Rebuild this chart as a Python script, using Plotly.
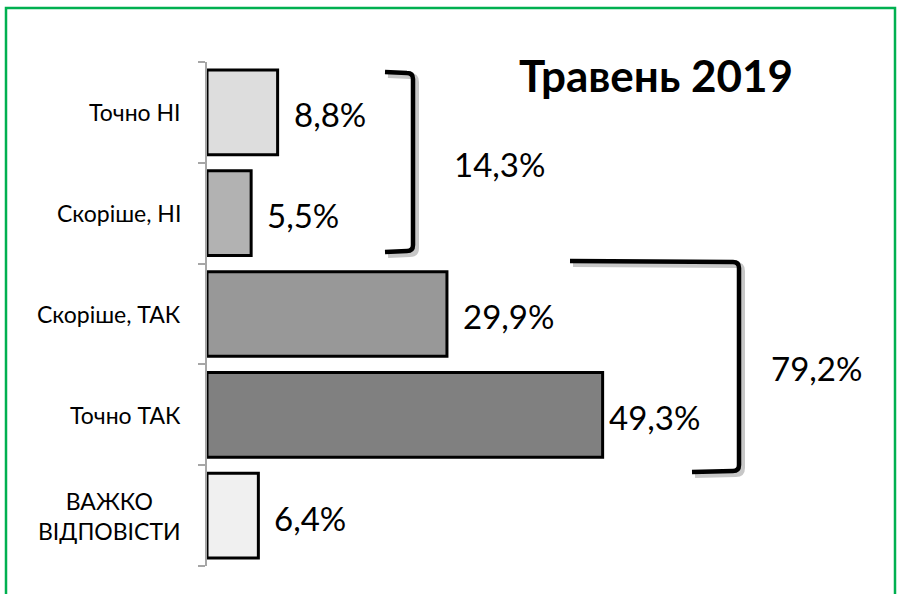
import plotly.graph_objects as go

categories = ["Точно НІ", "Скоріше, НІ", "Скоріше, ТАК", "Точно ТАК", "ВАЖКО<br>ВІДПОВІСТИ"]
values = [8.8, 5.5, 29.9, 49.3, 6.4]
value_labels = ["8,8%", "5,5%", "29,9%", "49,3%", "6,4%"]
bar_colors = ["#DDDDDD", "#B2B2B2", "#989898", "#808080", "#F0F0F0"]
group_labels = ["14,3%", "79,2%"]
title_text = "Травень 2019"

W, H = 897, 594
L, R, T, B = 207, 48, 62, 28
XMAX = 80
pw, ph = W - L - R, H - T - B

def px(xp):
    return (xp - L) / pw

def py(yp):
    return (H - B - yp) / ph

FONT = "Lato, 'Open Sans', sans-serif"

fig = go.Figure()
fig.add_trace(go.Bar(
    y=list(range(len(categories))), x=values, orientation="h",
    marker=dict(color=bar_colors, line=dict(color="#000000", width=3)),
    width=0.84, hoverinfo="skip",
))

annotations = []
shifts = [14, 14, 14, 4, 14]
for i, (v, t) in enumerate(zip(values, value_labels)):
    annotations.append(dict(x=v, y=i, xref="x", yref="y", text=t, showarrow=False,
                            xanchor="left", yanchor="middle", xshift=shifts[i], yshift=-2,
                            font=dict(family=FONT, size=33, color="#000000")))
for i, c in enumerate(categories):
    annotations.append(dict(x=0, y=i, xref="paper", yref="y", text=c, showarrow=False,
                            xanchor="right", yanchor="middle", xshift=-24, align="center",
                            font=dict(family=FONT, size=23, color="#000000")))

annotations.append(dict(x=px(656), y=py(75), xref="paper", yref="paper", text="<b>" + title_text + "</b>",
                        showarrow=False, xanchor="center", yanchor="middle",
                        font=dict(family=FONT, size=44, color="#000000")))
annotations.append(dict(x=px(452), y=py(164), xref="paper", yref="paper", text=group_labels[0],
                        showarrow=False, xanchor="left", yanchor="middle",
                        font=dict(family=FONT, size=33, color="#000000")))
annotations.append(dict(x=px(769), y=py(368), xref="paper", yref="paper", text=group_labels[1],
                        showarrow=False, xanchor="left", yanchor="middle",
                        font=dict(family=FONT, size=33, color="#000000")))

def bracket(x_top_left, y_top, x_right, y_bot, x_bot_left, dx=0, dy=0):
    r = 6
    pts = lambda x, y: f"{px(x + dx)},{py(y + dy)}"
    return ("M " + pts(x_top_left, y_top) +
            " L " + pts(x_right - r, y_top + 1) +
            " Q " + pts(x_right, y_top + 1) + " " + pts(x_right, y_top + 1 + r) +
            " L " + pts(x_right, y_bot - r) +
            " Q " + pts(x_right, y_bot) + " " + pts(x_right - r, y_bot) +
            " L " + pts(x_bot_left, y_bot + 1))

shapes = []
for (a, b, c, d, e) in [(385, 72, 413, 251, 385), (570, 261, 739, 471, 692)]:
    shapes.append(dict(type="path", xref="paper", yref="paper",
                       path=bracket(a, b, c, d, e, 3, 3),
                       line=dict(color="rgba(0,0,0,0.22)", width=6)))
    shapes.append(dict(type="path", xref="paper", yref="paper",
                       path=bracket(a, b, c, d, e),
                       line=dict(color="#000000", width=4.5)))

# green outer frame
shapes.append(dict(type="rect", xref="paper", yref="paper",
                   x0=px(6), x1=px(895), y0=py(8), y1=py(600),
                   line=dict(color="#00B050", width=2.5), fillcolor="rgba(0,0,0,0)", layer="below"))

n = len(categories)
fig.update_layout(
    width=W, height=H, margin=dict(l=L, r=R, t=T, b=B, pad=0),
    paper_bgcolor="#FFFFFF", plot_bgcolor="#FFFFFF",
    showlegend=False, bargap=0.16,
    xaxis=dict(range=[0, XMAX], visible=False, fixedrange=True),
    yaxis=dict(range=[n - 0.5, -0.5], tickmode="array",
               tickvals=[i - 0.5 for i in range(n + 1)], ticktext=[""] * (n + 1),
               showline=True, linecolor="#A6A6A6", linewidth=1.5,
               ticks="outside", ticklen=7, tickcolor="#A6A6A6", tickwidth=1.5,
               showgrid=False, zeroline=False, fixedrange=True),
    annotations=annotations, shapes=shapes,
)

fig.write_html("out.html", config={"displayModeBar": False},
               post_script="document.body.style.margin='0';document.body.style.overflow='hidden';")
